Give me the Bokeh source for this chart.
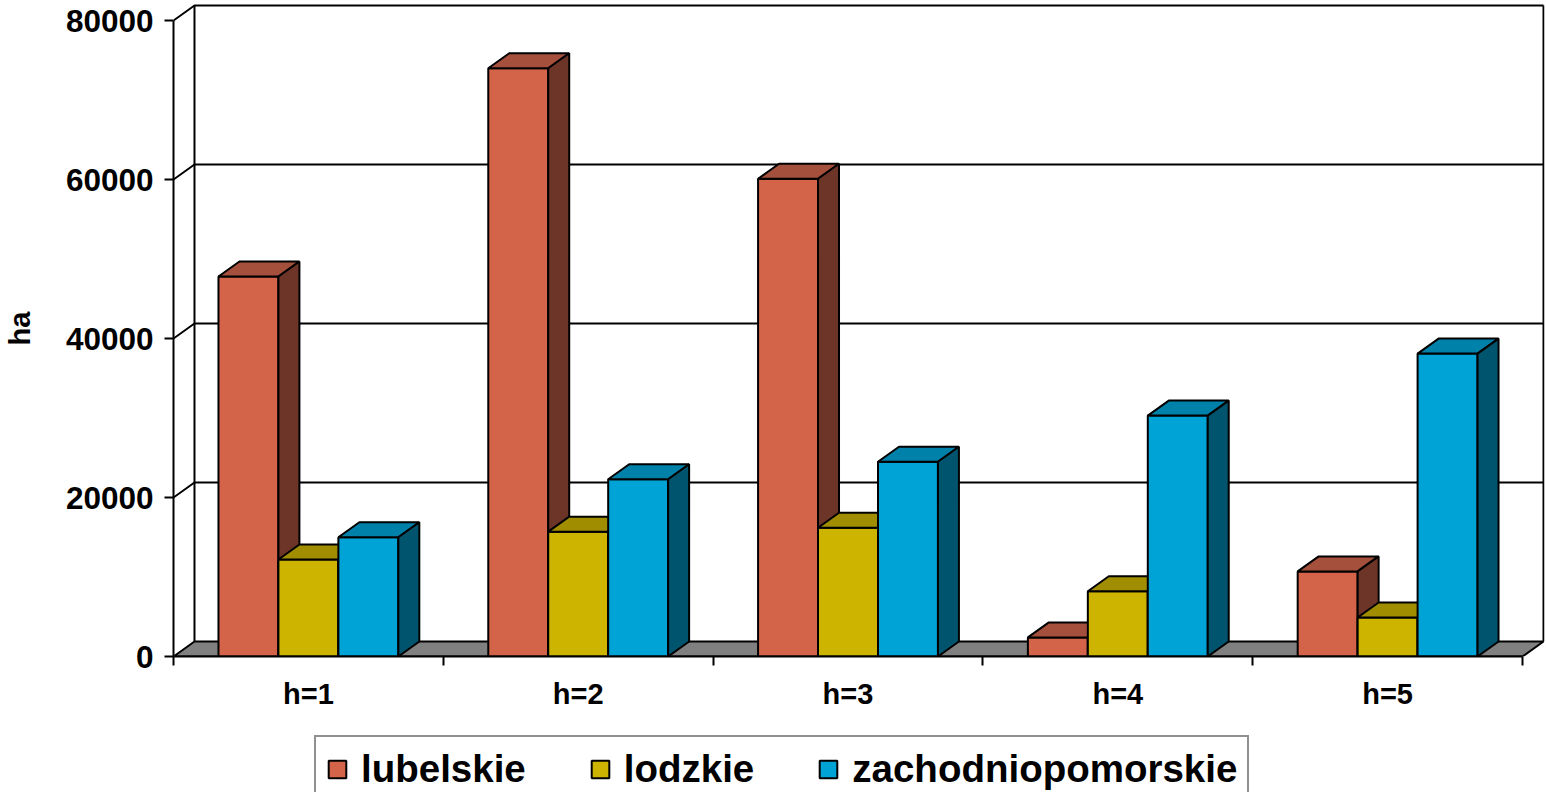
from bokeh.plotting import figure
from bokeh.layouts import column
from bokeh.models import FixedTicker, LinearAxis, Range1d, Legend, LegendItem, ColumnDataSource
from bokeh.embed import file_html
from bokeh.resources import INLINE

# ---- data ----
categories = ["h=1", "h=2", "h=3", "h=4", "h=5"]
series_names = ["lubelskie", "lodzkie", "zachodniopomorskie"]
lubelskie = [47800, 74000, 60100, 2400, 10700]
lodzkie = [12200, 15700, 16200, 8200, 4900]
zachodniopomorskie = [15000, 22300, 24500, 30300, 38100]
y_ticks = [0, 20000, 40000, 60000, 80000]

front_colors = ["#D3644A", "#CCB400", "#00A3D6"]
top_colors = ["#A5503C", "#A08D00", "#0081AA"]
side_colors = ["#6D3428", "#6B5E00", "#00546E"]

FONT = "Liberation Sans"

# ---- geometry ----
W = 1546
H1, H2 = 735, 57
BL, BR, BT, BB = 172, 2, 0, 79
frame_w = W - BL - BR
frame_h = H1 - BT - BB
CAT_PX = 270.0
X_END = frame_w / CAT_PX
Y_END = 80000 * frame_h / 636.0
DX = 21 / CAT_PX
DY = 15 * Y_END / frame_h
GAP = 1 / 6
BW = 2 / 9
N = len(categories)
YMAX = y_ticks[-1]
series_vals = [lubelskie, lodzkie, zachodniopomorskie]

p = figure(width=W, height=H1, x_range=Range1d(0, X_END), y_range=Range1d(0, Y_END),
           output_backend="svg", toolbar_location=None,
           x_axis_location=None, y_axis_location=None,
           min_border_left=BL, min_border_right=BR, min_border_top=BT, min_border_bottom=BB)
p.outline_line_color = None
p.background_fill_color = "white"
p.border_fill_color = "white"
p.xgrid.visible = False
p.ygrid.visible = False

# back wall + side wall lines
wall_xs, wall_ys = [], []
for v in y_ticks[1:]:
    wall_xs.append([0, DX, N + DX])
    wall_ys.append([v, v + DY, v + DY])
wall_xs.append([DX, DX]); wall_ys.append([DY, YMAX + DY])
wall_xs.append([N + DX, N + DX]); wall_ys.append([DY, YMAX + DY])
p.multi_line(xs=wall_xs, ys=wall_ys, line_color="black", line_width=2)

# floor
p.patch(x=[0, N, N + DX, DX], y=[0, 0, DY, DY], fill_color="#808080",
        line_color="black", line_width=2)


def bar_source(s, vals):
    x0 = [i + GAP + s * BW for i in range(N)]
    x1 = [x + BW for x in x0]
    return x0, x1, ColumnDataSource(dict(left=x0, right=x1, top=vals, bottom=[0] * N))


# bars
for s, vals in enumerate(series_vals):
    x0, x1, src = bar_source(s, vals)
    p.quad(left="left", right="right", top="top", bottom="bottom", source=src,
           fill_color=front_colors[s], line_color="black", line_width=2)
    top_xs = [[a, b, b + DX, a + DX] for a, b in zip(x0, x1)]
    top_ys = [[v, v, v + DY, v + DY] for v in vals]
    p.patches(xs=top_xs, ys=top_ys, fill_color=top_colors[s], line_color="black", line_width=2)
    side_xs = [[b, b + DX, b + DX, b] for b in x1]
    side_ys = [[0, DY, v + DY, v] for v in vals]
    p.patches(xs=side_xs, ys=side_ys, fill_color=side_colors[s], line_color="black", line_width=2)

# axes
yaxis = LinearAxis(ticker=FixedTicker(ticks=y_ticks, minor_ticks=[]), bounds=(0, YMAX),
                   axis_label="ha")
yaxis.axis_line_width = 2
yaxis.major_tick_line_width = 2
yaxis.major_tick_out = 9
yaxis.major_tick_in = 0
yaxis.minor_tick_out = 0
yaxis.minor_tick_in = 0
yaxis.major_label_standoff = 11
yaxis.major_label_text_font = FONT
yaxis.major_label_text_font_style = "bold"
yaxis.major_label_text_font_size = "31.5px"
yaxis.major_label_text_color = "black"
yaxis.axis_label_text_font = FONT
yaxis.axis_label_text_font_style = "bold"
yaxis.axis_label_text_font_size = "29px"
yaxis.axis_label_text_color = "black"
yaxis.axis_label_standoff = 27
p.add_layout(yaxis, "left")

centers = [i + 0.5 for i in range(N)]
xaxis = LinearAxis(ticker=FixedTicker(ticks=centers, minor_ticks=list(range(N + 1))),
                   bounds=(0, N))
xaxis.major_label_overrides = {c: lab for c, lab in zip(centers, categories)}
xaxis.axis_line_width = 2
xaxis.major_tick_out = 0
xaxis.major_tick_in = 0
xaxis.major_tick_line_color = None
xaxis.minor_tick_out = 9
xaxis.minor_tick_in = 0
xaxis.minor_tick_line_width = 2
xaxis.minor_tick_line_color = "black"
xaxis.major_label_standoff = 12
xaxis.major_label_text_font = FONT
xaxis.major_label_text_font_style = "bold"
xaxis.major_label_text_font_size = "29px"
xaxis.major_label_text_color = "black"
p.add_layout(xaxis, "below")

# legend strip (proxy bars lie outside its visible y range)
p2 = figure(width=W, height=H2, x_range=Range1d(0, X_END), y_range=Range1d(-2, -1),
            output_backend="svg", toolbar_location=None,
            x_axis_location=None, y_axis_location=None,
            min_border_left=BL, min_border_right=BR, min_border_top=0, min_border_bottom=0)
p2.outline_line_color = None
p2.background_fill_color = "white"
p2.border_fill_color = "white"
p2.xgrid.visible = False
p2.ygrid.visible = False
items = []
for s, name in enumerate(series_names):
    _, _, src2 = bar_source(s, series_vals[s])
    r = p2.quad(left="left", right="right", top="top", bottom="bottom", source=src2,
                fill_color=front_colors[s], line_color="black", line_width=2)
    items.append(LegendItem(label=name, renderers=[r]))

PAD = 10
legend = Legend(items=items, orientation="horizontal",
                location=(323 - PAD - BL, -11),
                label_text_font=FONT, label_text_font_style="bold",
                label_text_font_size="38.5px", label_text_color="black",
                glyph_width=22, glyph_height=22, label_standoff=13, spacing=63,
                padding=PAD, margin=0, border_line_color="#222222", border_line_width=2,
                background_fill_color="white", background_fill_alpha=1)
p2.add_layout(legend)

layout = column(p, p2, spacing=0)
open("out.html", "w").write(file_html(layout, INLINE))
